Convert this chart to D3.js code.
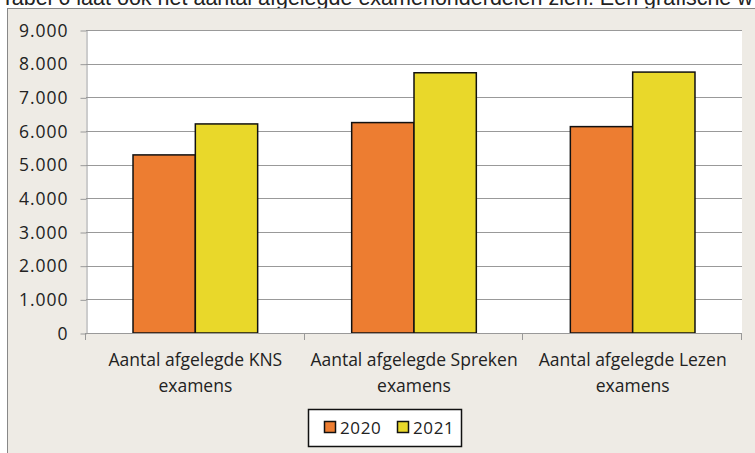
<!DOCTYPE html>
<html lang="nl">
	<head>
		<meta charset="UTF-8">
		<title>Afgelegde examens</title>
		<script src="https://d3js.org/d3.v7.min.js"></script>
		<style>
			html, body {
				margin: 0;
				padding: 0;
				background: white;
				overflow: hidden;
			}

			.tick text {
				font-family: "Open Sans", sans-serif;
				font-size: 17.5px;
				letter-spacing: 1px;
				fill: #222;
			}

			.grid line {
				stroke: #999;
				stroke-width: 1;
			}

			.bar {
				stroke: #111;
				stroke-width: 1.5;
			}
		</style>
	</head>
	<body>
		<svg id="chart" width="755" height="453"></svg>
		<script>
			const categories = [
				["Aantal afgelegde KNS", "examens"],
				["Aantal afgelegde Spreken", "examens"],
				["Aantal afgelegde Lezen", "examens"]
			]
			const years = ["2020", "2021"]
			const values2020 = [5290, 6250, 6130]
			const values2021 = [6210, 7730, 7750]
			const yTicks = [0, 1000, 2000, 3000, 4000, 5000, 6000, 7000, 8000, 9000]
			const colors = ["#ED7D31", "#E9D82A"]
			const introText = "Tabel 6 laat ook het aantal afgelegde examenonderdelen zien. Een grafische w"

			const svg = d3.select("#chart")
			const margin = { left: 86, right: 742, top: 30, bottom: 333 }

			// page text above the chart, cut off at the top
			svg.append("text")
				.attr("x", 1)
				.attr("y", 5)
				.attr("font-family", "Liberation Sans, Arial, sans-serif")
				.attr("font-size", 21.5)
				.attr("fill", "#222")
				.text(introText)

			// chart frame
			svg.append("rect")
				.attr("x", 7.5)
				.attr("y", 8.5)
				.attr("width", 780)
				.attr("height", 480)
				.attr("fill", "#EEEBE5")
				.attr("stroke", "#888")

			svg.append("rect")
				.attr("x", margin.left)
				.attr("y", margin.top)
				.attr("width", margin.right - margin.left)
				.attr("height", margin.bottom - margin.top)
				.attr("fill", "white")

			const y = d3.scaleLinear().domain([0, 9000]).range([margin.bottom, margin.top])
			const x0 = d3.scaleBand()
				.domain(d3.range(categories.length))
				.range([margin.left, margin.right])
				.paddingInner(0.43)
				.paddingOuter(0.215)
			const x1 = d3.scaleBand().domain(years).range([0, x0.bandwidth()])

			const fmt = d => d === 0 ? "0" : d3.format(",")(d).replace(/,/g, ".")

			// gridlines
			svg.append("g")
				.classed("grid", true)
				.selectAll("line")
				.data(yTicks.filter(d => d > 0))
				.join("line")
				.attr("x1", margin.left)
				.attr("x2", margin.right)
				.attr("y1", d => Math.round(y(d)) + 0.5)
				.attr("y2", d => Math.round(y(d)) + 0.5)

			// y axis
			const yAxis = svg.append("g")
				.attr("transform", `translate(${margin.left + 0.5},0.5)`)
				.call(d3.axisLeft(y).tickValues(yTicks).tickFormat(fmt).tickSize(6).tickSizeOuter(0))
			yAxis.selectAll("line, path").attr("stroke", "#999")
			yAxis.selectAll(".tick text").attr("x", -18)

			// bars
			const series = [values2020, values2021]
			const groups = svg.append("g")
				.selectAll("g")
				.data(categories.map((c, i) => i))
				.join("g")
				.attr("transform", i => `translate(${x0(i)},0)`)
			groups.selectAll("rect")
				.data(i => years.map((yr, s) => ({ yr: yr, s: s, v: series[s][i] })))
				.join("rect")
				.classed("bar", true)
				.attr("x", d => x1(d.yr))
				.attr("y", d => y(d.v))
				.attr("width", x1.bandwidth())
				.attr("height", d => y(0) - y(d.v))
				.attr("fill", d => colors[d.s])

			// x axis with ticks at the category boundaries
			const step = x0.step()
			const bounds = d3.range(categories.length + 1).map(i => margin.left + i * step)
			svg.append("line")
				.attr("x1", margin.left)
				.attr("x2", margin.right)
				.attr("y1", Math.round(y(0)) + 0.5)
				.attr("y2", Math.round(y(0)) + 0.5)
				.attr("stroke", "#999")
			svg.append("g")
				.selectAll("line")
				.data(bounds)
				.join("line")
				.attr("x1", d => Math.round(d) - 0.5)
				.attr("x2", d => Math.round(d) - 0.5)
				.attr("y1", y(0))
				.attr("y2", y(0) + 7)
				.attr("stroke", "#999")

			// category labels
			svg.append("g")
				.selectAll("text")
				.data(categories)
				.join("text")
				.attr("font-family", "'Open Sans', sans-serif")
				.attr("font-size", 17.5)
				.attr("fill", "#222")
				.attr("text-anchor", "middle")
				.each(function (lines, i) {
					const cx = x0(i) + x0.bandwidth() / 2
					d3.select(this).selectAll("tspan")
						.data(lines)
						.join("tspan")
						.attr("x", cx)
						.attr("y", (d, j) => 366 + j * 26)
						.text(d => d)
				})

			// legend
			const legend = svg.append("g")
			legend.append("rect")
				.attr("x", 308.5)
				.attr("y", 409.5)
				.attr("width", 153)
				.attr("height", 37)
				.attr("fill", "white")
				.attr("stroke", "#111")
				.attr("stroke-width", 1.5)
			const items = legend.selectAll("g")
				.data(years)
				.join("g")
				.attr("transform", (d, i) => `translate(${324 + i * 73},0)`)
			items.append("rect")
				.attr("x", 0.5)
				.attr("y", 421.5)
				.attr("width", 11)
				.attr("height", 11)
				.attr("fill", (d, i) => colors[i])
				.attr("stroke", "#111")
				.attr("stroke-width", 1.5)
			items.append("text")
				.attr("x", 16)
				.attr("y", 433.5)
				.attr("font-family", "'Open Sans', sans-serif")
				.attr("font-size", 17)
				.attr("letter-spacing", 0.6)
				.attr("fill", "#222")
				.text(d => d)
		</script>
	</body>
</html>
